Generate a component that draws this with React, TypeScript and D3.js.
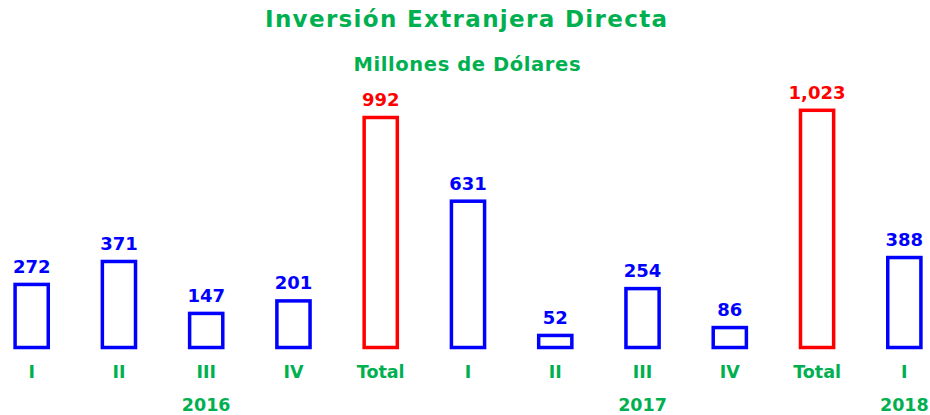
import * as d3 from "d3";

// chart data
const categories = ["I", "II", "III", "IV", "Total", "I", "II", "III", "IV", "Total", "I"];
const values = [272, 371, 147, 201, 992, 631, 52, 254, 86, 1023, 388];
const years = ["2016", "2017", "2018"];
const yearAt = [2, 7, 10]; // index of the bar each year label sits under

const title = "Inversión Extranjera Directa";
const subtitle = "Millones de Dólares";

const width = 930;
const height = 415;
const green = "#00B050";
const font = "'DejaVu Sans', Verdana, sans-serif";

export default function App() {
  const x = d3
    .scaleBand<number>()
    .domain(values.map((v, i) => i))
    .range([2, 934])
    .paddingInner(0.62)
    .paddingOuter(0.15);

  const y = d3.scaleLinear().domain([0, 1023]).range([347.5, 110.3]);

  const fmt = d3.format(",");

  return (
    <svg
      width={width}
      height={height}
      style={{ position: "absolute", left: 0, top: 0, background: "#fff" }}
    >
      <text
        x={466}
        y={27}
        textAnchor="middle"
        fontFamily={font}
        fontWeight="bold"
        fontSize={23}
        textLength={402}
        lengthAdjust="spacing"
        fill={green}
      >
        {title}
      </text>
      <text
        x={467}
        y={70.5}
        textAnchor="middle"
        fontFamily={font}
        fontWeight="bold"
        fontSize={19.5}
        textLength={227}
        lengthAdjust="spacing"
        fill={green}
      >
        {subtitle}
      </text>

      {values.map((v, i) => {
        const color = categories[i] === "Total" ? "#FF0000" : "#0000FF";
        const cx = (x(i) as number) + x.bandwidth() / 2;
        return (
          <g key={i}>
            <rect
              x={x(i)}
              y={y(v)}
              width={x.bandwidth()}
              height={y(0) - y(v)}
              fill="none"
              stroke={color}
              strokeWidth={3.5}
            />
            <text
              x={cx}
              y={y(v) - 11.5}
              textAnchor="middle"
              fontFamily={font}
              fontWeight="bold"
              fontSize={18}
              fill={color}
            >
              {fmt(v)}
            </text>
            <text
              x={cx}
              y={377.5}
              textAnchor="middle"
              fontFamily={font}
              fontWeight="bold"
              fontSize={17.5}
              fill={green}
            >
              {categories[i]}
            </text>
          </g>
        );
      })}

      {years.map((yr, j) => (
        <text
          key={yr}
          x={(x(yearAt[j]) as number) + x.bandwidth() / 2}
          y={411}
          textAnchor="middle"
          fontFamily={font}
          fontWeight="bold"
          fontSize={17.5}
          fill={green}
        >
          {yr}
        </text>
      ))}
    </svg>
  );
}
